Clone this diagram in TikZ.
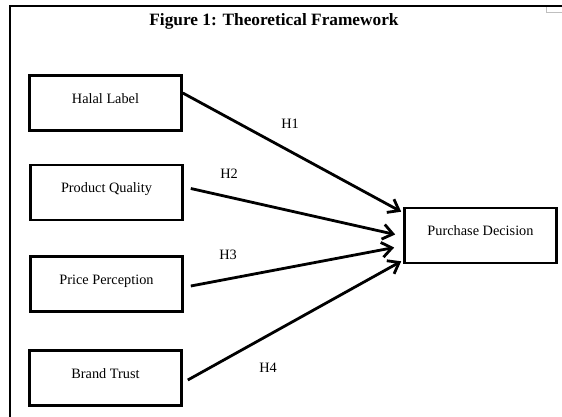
\documentclass[tikz,border=0pt]{standalone}
\usepackage{fontspec}
\setmainfont{Liberation Serif}
\usetikzlibrary{arrows.meta}

\tikzset{
  varbox/.style={draw, line width=2.6pt, minimum width=152pt, minimum height=55pt,
    inner sep=0pt, font=\fontsize{14.3}{16}\selectfont, text height=10pt, text depth=10pt},
  hyplink/.style={line width=2.8pt, -{Straight Barb[length=10pt,width=15pt]}},
  hyplabel/.style={font=\fontsize{14.3}{16}\selectfont, inner sep=0pt},
  frameline/.style={line width=2.6pt}
}

\begin{document}
\begin{tikzpicture}[x=1pt,y=-1pt]
  \useasboundingbox (0,0) rectangle (562,416);

  % outer frame (left and top edges)
  \draw[frameline] (10,418) -- (10,5);
  \draw[line width=2pt] (9,6) -- (562,6);
  \draw[gray!50, line width=0.8pt] (546.5,7) -- (546.5,12) -- (562,12);

  % title
  \node[font=\bfseries\fontsize{17.3}{20}\selectfont, inner sep=0pt] (title) at (274,21)
    {Figure 1: Theoretical Framework};

  % independent variables
  \node[varbox] (halal)   at (105.5,103)   {Halal Label};
  \node[varbox] (quality) at (106.5,192.5) {Product Quality};
  \node[varbox] (price)   at (106.5,284)   {Price Perception};
  \node[varbox] (brand)   at (105.5,378)   {Brand Trust};

  % dependent variable
  \node[varbox] (purchase) at (480.5,235.5) {Purchase Decision};

  % hypothesised effects
  \draw[hyplink] ([yshift=10pt]halal.east) -- ([xshift=-2pt,yshift=-5pt]purchase.north west);
  \draw[hyplink] ([xshift=7pt,yshift=4pt]quality.east) -- ([xshift=-8pt,yshift=1pt]purchase.west);
  \draw[hyplink] ([xshift=7pt,yshift=-2pt]price.east) -- ([xshift=-9pt,yshift=-12pt]purchase.west);
  \draw[hyplink] ([xshift=5pt,yshift=-2pt]brand.east) -- ([xshift=-2pt,yshift=3pt]purchase.south west);

  % hypothesis labels
  \node[hyplabel] (h1) at (290,124) {H1};
  \node[hyplabel] (h2) at (229,174) {H2};
  \node[hyplabel] (h3) at (228,255) {H3};
  \node[hyplabel] (h4) at (268,368) {H4};
\end{tikzpicture}
\end{document}
